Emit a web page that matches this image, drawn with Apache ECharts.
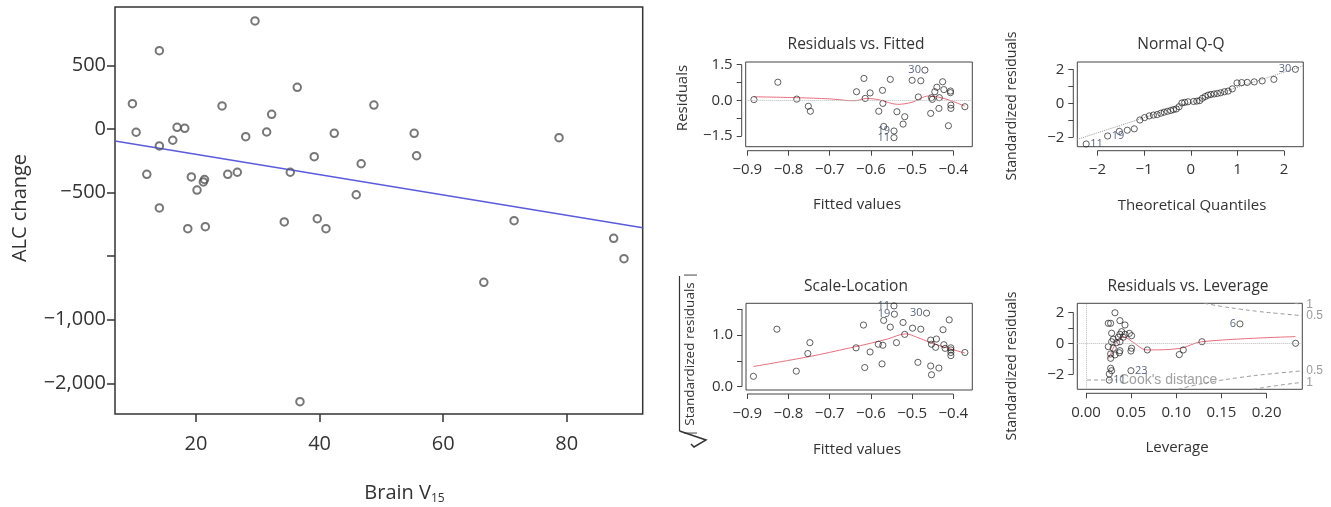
<!DOCTYPE html>
<html><head><meta charset="utf-8">
<script src="https://cdn.jsdelivr.net/npm/echarts@6/dist/echarts.min.js"></script>
<style>html,body{margin:0;padding:0;background:#fff}#c{width:1331px;height:507px}</style>
</head><body><div id="c"></div><script>
// ---------------- main scatter: ALC change vs Brain V15 ----------------
const brainV15 = [29.54,14.06,9.70,10.30,36.38,24.21,32.24,48.79,16.93,18.17,16.23,14.06,28.04,31.43,42.37,39.13,46.73,12.03,19.24,21.18,21.37,20.16,25.13,26.68,35.25,45.93,14.06,34.28,39.62,41.03,18.66,21.50,36.82,55.31,55.70,78.76,71.48,87.60,89.27,66.58];
const alcChange = [852,618,201,-24,330,183,117,190,15,7,-87,-132,-59,-22,-32,-216,-272,-355,-376,-415,-396,-479,-355,-339,-339,-516,-620,-730,-705,-783,-783,-767,-2145,-32,-209,-67,-720,-859,-1019,-1205];
const fitLineX = [6.88, 92.3];
const fitLineY = [-93, -775];
const mainXTicks = [20, 40, 60, 80];
const mainYTicks = [500, 0, -500, -1000, -1500, -2000];
const mainYLabels = ['500', '0', '\u2212500', '', '\u22121,000', '\u22122,000'];

// ---------------- Residuals vs. Fitted ----------------
const rvfFitted = [-0.884,-0.826,-0.780,-0.752,-0.747,-0.635,-0.617,-0.614,-0.602,-0.581,-0.572,-0.571,-0.569,-0.553,-0.544,-0.544,-0.537,-0.522,-0.518,-0.500,-0.485,-0.479,-0.469,-0.455,-0.453,-0.451,-0.445,-0.440,-0.435,-0.434,-0.426,-0.423,-0.412,-0.407,-0.407,-0.406,-0.406,-0.372];
const rvfResid = [0.03,0.76,0.05,-0.25,-0.46,0.36,0.92,0.08,0.31,-0.46,0.42,-0.13,-1.10,0.88,-1.29,-1.57,-0.48,-1.00,-0.69,0.84,0.14,0.82,1.27,-0.55,0.11,0.04,0.36,0.55,-0.34,0.11,0.78,0.45,-1.07,0.39,0.32,-0.20,-0.34,-0.27];
const rvfSmoothX = [-0.884,-0.78,-0.70,-0.64,-0.61,-0.58,-0.535,-0.50,-0.46,-0.435,-0.405,-0.372];
const rvfSmoothY = [0.15,0.11,0.06,-0.02,0.08,0.02,-0.17,-0.08,0.18,0.13,-0.02,-0.25];
const rvfLabelIds = ['30','19','11'];
const rvfLabelX = [-0.469,-0.544,-0.544];
const rvfLabelY = [1.27,-1.29,-1.57];
const rvfXTicks = [-0.9,-0.8,-0.7,-0.6,-0.5,-0.4];
const rvfYTicks = [-1.5,-0.75,0,0.75,1.5];
const rvfYLabels = [-1.5,0,1.5];

// ---------------- Normal Q-Q ----------------
const qqTheo = [-2.24,-1.78,-1.53,-1.36,-1.21,-1.09,-0.99,-0.89,-0.80,-0.72,-0.64,-0.57,-0.50,-0.43,-0.37,-0.31,-0.25,-0.19,-0.13,-0.06,0.06,0.13,0.19,0.25,0.31,0.37,0.43,0.50,0.57,0.64,0.72,0.80,0.89,0.99,1.09,1.21,1.36,1.53,1.78,2.24];
const qqStd = [-2.39,-1.92,-1.65,-1.58,-1.50,-0.98,-0.84,-0.74,-0.69,-0.66,-0.58,-0.52,-0.47,-0.42,-0.37,-0.33,-0.20,0.02,0.06,0.09,0.11,0.13,0.16,0.30,0.40,0.48,0.52,0.55,0.58,0.62,0.68,0.72,0.85,1.20,1.22,1.23,1.26,1.32,1.41,2.00];
const qqLineX = [-2.43, 2.41];
const qqLineY = [-2.12, 2.20];
const qqLabelIds = ['11','19','30'];
const qqLabelX = [-2.24,-1.78,2.24];
const qqLabelY = [-2.39,-1.92,2.00];
const qqXTicks = [-2,-1,0,1,2];
const qqYTicks = [-2,-1,0,1,2];
const qqYLabels = [-2,0,2];

// ---------------- Scale-Location ----------------
const slFitted = [-0.885,-0.828,-0.781,-0.753,-0.748,-0.636,-0.618,-0.615,-0.602,-0.582,-0.573,-0.571,-0.569,-0.553,-0.544,-0.543,-0.538,-0.522,-0.518,-0.499,-0.486,-0.479,-0.465,-0.455,-0.453,-0.453,-0.455,-0.441,-0.443,-0.435,-0.425,-0.423,-0.420,-0.410,-0.406,-0.406,-0.406,-0.406,-0.372];
const slSqrt = [0.20,1.11,0.30,0.64,0.85,0.75,1.19,0.37,0.67,0.82,0.44,0.80,1.28,1.15,1.56,1.40,0.85,1.24,1.01,1.13,0.47,1.11,1.42,0.90,0.82,0.23,0.40,0.92,0.76,0.36,1.10,0.81,0.74,1.29,0.75,0.71,0.66,0.60,0.66];
const slSmoothX = [-0.885,-0.75,-0.65,-0.60,-0.56,-0.515,-0.49,-0.455,-0.42,-0.372];
const slSmoothY = [0.39,0.58,0.75,0.84,0.92,1.02,0.96,0.85,0.76,0.65];
const slLabelIds = ['11','19','30'];
const slLabelX = [-0.544,-0.543,-0.465];
const slLabelY = [1.56,1.40,1.42];
const slYTicks = [0,0.5,1,1.5];
const slYLabels = [0,1];

// ---------------- Residuals vs. Leverage ----------------
const levH = [0.0321,0.0247,0.0273,0.0376,0.0432,0.0284,0.0395,0.0376,0.0432,0.0480,0.0505,0.0302,0.0358,0.0413,0.0284,0.0339,0.0376,0.0247,0.0302,0.0376,0.0505,0.0498,0.0273,0.0321,0.0369,0.0273,0.0273,0.0284,0.0258,0.0258,0.0498,0.0679,0.1033,0.1077,0.1284,0.1705,0.2321];
const levStd = [1.97,1.29,1.29,1.46,1.18,0.65,0.75,0.58,0.58,0.64,0.49,0.26,0.39,0.39,0.10,0.04,0.10,-0.22,-0.32,-0.48,-0.32,-0.50,-0.69,-0.75,-0.61,-0.97,-1.61,-1.77,-1.98,-2.38,-1.77,-0.43,-0.73,-0.43,0.10,1.25,0.00];
const levSmoothX = [0.0247,0.030,0.035,0.040,0.045,0.050,0.068,0.104,0.128,0.232];
const levSmoothY = [-1.0,-0.35,0.20,0.38,0.35,0.15,-0.43,-0.33,0.10,0.43];
const levLabelIds = ['11','23','6'];
const levLabelX = [0.0258,0.0498,0.1705];
const levLabelY = [-2.38,-1.77,1.25];
const cookLevUp05 = [0.131,0.15,0.17,0.19,0.21,0.2395];
const cookResUp05 = [2.58,2.38,2.21,2.06,1.94,1.78];
const cookLevUp1 = [0.231,0.2395];
const cookResUp1 = [2.58,2.52];
const cookLevLo05 = [0.102,0.12,0.14,0.17,0.20,0.2395];
const cookResLo05 = [-2.97,-2.71,-2.48,-2.21,-2.00,-1.78];
const cookLevLo1 = [0.185,0.21,0.2395];
const cookResLo1 = [-2.97,-2.74,-2.52];
const levXTicks = [0,0.05,0.10,0.15,0.20];
const levYTicks = [-2,-1,0,1,2];
const levYLabels = [-2,0,2];

// ---------------- helpers ----------------
const FONT = "'Open Sans', 'Noto Sans', sans-serif";
const RFONT = "'Liberation Sans', Arial, sans-serif";
const TXT = '#333';
const pts = (xs, ys) => xs.map((x, i) => [x, ys[i]]);
const minus = s => String(s).replace('-', '\u2212');

const grids = [
  {left:115, top:7, width:527.7, height:407, borderColor:'#333', borderWidth:1.5},
  {left:745.7, top:62, width:226.6, height:84.7, borderColor:'#444', borderWidth:1},
  {left:1077.3, top:62, width:226, height:84.7, borderColor:'#444', borderWidth:1},
  {left:746, top:303.3, width:226.3, height:86.7, borderColor:'#444', borderWidth:1},
  {left:1077.3, top:303.3, width:225, height:86, borderColor:'#444', borderWidth:1}
].map(g => Object.assign({show:true, backgroundColor:'transparent', containLabel:false, outerBoundsMode:'none'}, g));

function diagX(gi, min, max, ticks, fmt) {
  return {gridIndex:gi, type:'value', min, max, offset:4, position:'bottom',
    axisLine:{show:false, onZero:false}, splitLine:{show:false},
    axisTick:{show:true, customValues:ticks, length:5, lineStyle:{color:'#444', width:1}},
    axisLabel:{customValues:ticks, formatter:v => minus(fmt(v)), fontSize:15, color:TXT, margin:12, fontFamily:FONT}};
}
function diagY(gi, min, max, ticks, labels, fmt) {
  return {gridIndex:gi, type:'value', min, max, offset:4, position:'left',
    axisLine:{show:false, onZero:false}, splitLine:{show:false},
    axisTick:{show:true, customValues:ticks, length:5, lineStyle:{color:'#444', width:1}},
    axisLabel:{customValues:labels, formatter:v => minus(fmt(v)), fontSize:15, color:TXT, margin:9, fontFamily:FONT}};
}
function rAxisLine(gi, dir, from, to, at, off) {
  return {type:'custom', xAxisIndex:gi, yAxisIndex:gi, clip:false, silent:true, z:1, data:[[from, at]],
    renderItem(params, api) {
      let p1, p2;
      if (dir === 'x') { p1 = api.coord([from, at]); p2 = api.coord([to, at]); p1[1] += off; p2[1] += off; }
      else { p1 = api.coord([at, from]); p2 = api.coord([at, to]); p1[0] -= off; p2[0] -= off; }
      return {type:'line', shape:{x1:p1[0], y1:p1[1], x2:p2[0], y2:p2[1]}, style:{stroke:'#444', lineWidth:1}};
    }};
}
function diagPoints(gi, xs, ys, extra) {
  return Object.assign({type:'scatter', xAxisIndex:gi, yAxisIndex:gi, data:pts(xs, ys), symbol:'circle', symbolSize:6.2,
    itemStyle:{color:'rgba(0,0,0,0)', borderColor:'#222', borderWidth:0.9}, z:4, silent:true}, extra || {});
}
function smoothLine(gi, xs, ys) {
  return {type:'line', xAxisIndex:gi, yAxisIndex:gi, data:pts(xs, ys), showSymbol:false, smooth:0.35, silent:true,
    lineStyle:{color:'#e8707f', width:1}, z:3};
}
function idLabels(gi, ids, xs, ys, allXs) {
  const mid = (Math.min(...allXs) + Math.max(...allXs)) / 2;
  return {type:'scatter', xAxisIndex:gi, yAxisIndex:gi, symbolSize:6, silent:true, z:5,
    itemStyle:{color:'rgba(0,0,0,0)'},
    data: ids.map((id, i) => ({value:[xs[i], ys[i]], name:id, label:{show:true, position: xs[i] > mid ? 'left' : 'right'}})),
    label:{formatter:'{b}', fontSize:11, color:'#2b3b5c', distance:1, fontFamily:FONT}};
}
function cookLine(xs, ys, txt) {
  return {type:'line', xAxisIndex:4, yAxisIndex:4, data:pts(xs, ys), showSymbol:false, smooth:true, silent:true,
    lineStyle:{color:'#9a9a9a', width:1, type:[4,3]}, z:2,
    endLabel:{show:true, formatter:txt, color:'#9a9a9a', fontSize:12, distance:4, fontFamily:RFONT}};
}
const zeroMark = (axis) => ({silent:true, symbol:'none', label:{show:false}, animation:false,
  lineStyle:{color:'#bbb', type:'dotted', width:1}, data: axis.map(a => a)});

const dec = n => v => Number(v).toFixed(n);

const option = {
  animation:false,
  backgroundColor:'#fff',
  grid: grids,
  xAxis: [
    {gridIndex:0, type:'value', min:6.88, max:92.3, position:'bottom', axisLine:{show:false, onZero:false}, splitLine:{show:false},
     axisTick:{show:true, customValues:mainXTicks, length:8, lineStyle:{color:'#333', width:1.5}},
     axisLabel:{customValues:mainXTicks, fontSize:20, color:TXT, margin:20, fontFamily:FONT}},
    diagX(1, -0.904, -0.354, rvfXTicks, dec(1)),
    diagX(2, -2.43, 2.41, qqXTicks, dec(0)),
    diagX(3, -0.903, -0.354, rvfXTicks, dec(1)),
    diagX(4, -0.0096, 0.2395, levXTicks, dec(2))
  ],
  yAxis: [
    {gridIndex:0, type:'value', min:-2242, max:962, position:'left', axisLine:{show:false, onZero:false}, splitLine:{show:false},
     axisTick:{show:true, customValues:mainYTicks, length:8, lineStyle:{color:'#333', width:1.5}},
     axisLabel:{customValues:mainYTicks, formatter:v => mainYLabels[mainYTicks.indexOf(v)] || '', fontSize:20, color:TXT, margin:9, fontFamily:FONT}},
    diagY(1, -1.95, 1.61, rvfYTicks, rvfYLabels, dec(1)),
    diagY(2, -2.55, 2.43, qqYTicks, qqYLabels, dec(0)),
    diagY(3, -0.064, 1.61, slYTicks, slYLabels, dec(1)),
    diagY(4, -2.97, 2.58, levYTicks, levYLabels, dec(0))
  ],
  series: [
    // main
    {type:'line', xAxisIndex:0, yAxisIndex:0, data:pts(fitLineX, fitLineY), showSymbol:false, silent:true,
     lineStyle:{color:'#5b5bdd', width:1.5}, z:2},
    {type:'scatter', xAxisIndex:0, yAxisIndex:0, data:pts(brainV15, alcChange), symbol:'circle', symbolSize:7.5, silent:true,
     itemStyle:{color:'rgba(0,0,0,0)', borderColor:'#555', borderWidth:2}, z:3},
    // residuals vs fitted
    diagPoints(1, rvfFitted, rvfResid, {markLine: zeroMark([{yAxis:0}])}),
    smoothLine(1, rvfSmoothX, rvfSmoothY),
    idLabels(1, rvfLabelIds, rvfLabelX, rvfLabelY, rvfFitted),
    rAxisLine(1, 'x', rvfXTicks[0], rvfXTicks[rvfXTicks.length-1], -1.95, 4),
    rAxisLine(1, 'y', rvfYTicks[0], rvfYTicks[rvfYTicks.length-1], -0.904, 4),
    // Q-Q
    {type:'line', xAxisIndex:2, yAxisIndex:2, data:pts(qqLineX, qqLineY), showSymbol:false, silent:true,
     lineStyle:{color:'#999', width:1, type:'dotted'}, z:2},
    diagPoints(2, qqTheo, qqStd),
    idLabels(2, qqLabelIds, qqLabelX, qqLabelY, qqTheo),
    rAxisLine(2, 'x', qqXTicks[0], qqXTicks[qqXTicks.length-1], -2.55, 4),
    rAxisLine(2, 'y', qqYTicks[0], qqYTicks[qqYTicks.length-1], -2.43, 4),
    // scale-location
    diagPoints(3, slFitted, slSqrt),
    smoothLine(3, slSmoothX, slSmoothY),
    idLabels(3, slLabelIds, slLabelX, slLabelY, slFitted),
    rAxisLine(3, 'x', rvfXTicks[0], rvfXTicks[rvfXTicks.length-1], -0.064, 4),
    rAxisLine(3, 'y', slYTicks[0], slYTicks[slYTicks.length-1], -0.903, 4),
    // leverage
    diagPoints(4, levH, levStd, {markLine: zeroMark([{yAxis:0}, {xAxis:0}])}),
    smoothLine(4, levSmoothX, levSmoothY),
    idLabels(4, levLabelIds, levLabelX, levLabelY, levH),
    cookLine(cookLevUp05, cookResUp05, '0.5'),
    cookLine(cookLevUp1, cookResUp1, '1'),
    cookLine(cookLevLo05, cookResLo05, '0.5'),
    cookLine(cookLevLo1, cookResLo1, '1'),
    rAxisLine(4, 'x', levXTicks[0], levXTicks[levXTicks.length-1], -2.97, 4),
    rAxisLine(4, 'y', levYTicks[0], levYTicks[levYTicks.length-1], -0.0096, 4)
  ],
  graphic: [
    // main axis names
    {type:'text', x:20, y:208, rotation:Math.PI/2, style:{text:'ALC change', fontSize:20, fill:TXT, fontFamily:FONT, textAlign:'center', textVerticalAlign:'middle'}},
    {type:'text', x:431, y:493, style:{text:'Brain V', fontSize:20, fill:TXT, fontFamily:FONT, textAlign:'right', textVerticalAlign:'middle'}},
    {type:'text', x:431, y:499, style:{text:'15', fontSize:12, fill:TXT, fontFamily:FONT, textAlign:'left', textVerticalAlign:'middle'}},
    // titles
    {type:'text', x:856, y:45, style:{text:'Residuals vs. Fitted', fontSize:15.5, fill:TXT, fontFamily:FONT, textAlign:'center', textVerticalAlign:'middle'}},
    {type:'text', x:1181, y:45, style:{text:'Normal Q-Q', fontSize:15.5, fill:TXT, fontFamily:FONT, textAlign:'center', textVerticalAlign:'middle'}},
    {type:'text', x:856, y:287, style:{text:'Scale-Location', fontSize:15.5, fill:TXT, fontFamily:FONT, textAlign:'center', textVerticalAlign:'middle'}},
    {type:'text', x:1188, y:287, style:{text:'Residuals vs. Leverage', fontSize:15.5, fill:TXT, fontFamily:FONT, textAlign:'center', textVerticalAlign:'middle'}},
    // x names
    {type:'text', x:857, y:205, style:{text:'Fitted values', fontSize:15, fill:TXT, fontFamily:FONT, textAlign:'center', textVerticalAlign:'middle'}},
    {type:'text', x:1192, y:206, style:{text:'Theoretical Quantiles', fontSize:15, fill:TXT, fontFamily:FONT, textAlign:'center', textVerticalAlign:'middle'}},
    {type:'text', x:857, y:450, style:{text:'Fitted values', fontSize:15, fill:TXT, fontFamily:FONT, textAlign:'center', textVerticalAlign:'middle'}},
    {type:'text', x:1177, y:448, style:{text:'Leverage', fontSize:15, fill:TXT, fontFamily:FONT, textAlign:'center', textVerticalAlign:'middle'}},
    // y names
    {type:'text', x:683, y:98, rotation:Math.PI/2, style:{text:'Residuals', fontSize:15, fill:TXT, fontFamily:FONT, textAlign:'center', textVerticalAlign:'middle'}},
    {type:'text', x:1012, y:106, rotation:Math.PI/2, style:{text:'Standardized residuals', fontSize:14, fill:TXT, fontFamily:FONT, textAlign:'center', textVerticalAlign:'middle'}},
    {type:'text', x:690, y:354, rotation:Math.PI/2, style:{text:'| Standardized residuals |', fontSize:13.5, fill:TXT, fontFamily:FONT, textAlign:'center', textVerticalAlign:'middle'}},
    {type:'line', shape:{x1:679.5, y1:276, x2:679.5, y2:431}, style:{stroke:TXT, lineWidth:1.2}},
    {type:'polyline', shape:{points:[[679.5,431],[706,440],[694,447],[691,444]]}, style:{stroke:TXT, lineWidth:1.5, fill:null}},
    {type:'text', x:1012, y:366, rotation:Math.PI/2, style:{text:'Standardized residuals', fontSize:14, fill:TXT, fontFamily:FONT, textAlign:'center', textVerticalAlign:'middle'}},
    // Cook's distance legend
    {type:'line', shape:{x1:1087, y1:380, x2:1117, y2:380}, style:{stroke:'#9a9a9a', lineWidth:1, lineDash:[4,3]}},
    {type:'text', x:1119, y:380, style:{text:"Cook's distance", fontSize:14, fill:'#a0a0a0', fontFamily:RFONT, textAlign:'left', textVerticalAlign:'middle'}}
  ]
};
const chart = echarts.init(document.getElementById('c'));
chart.setOption(option);
</script></body></html>
